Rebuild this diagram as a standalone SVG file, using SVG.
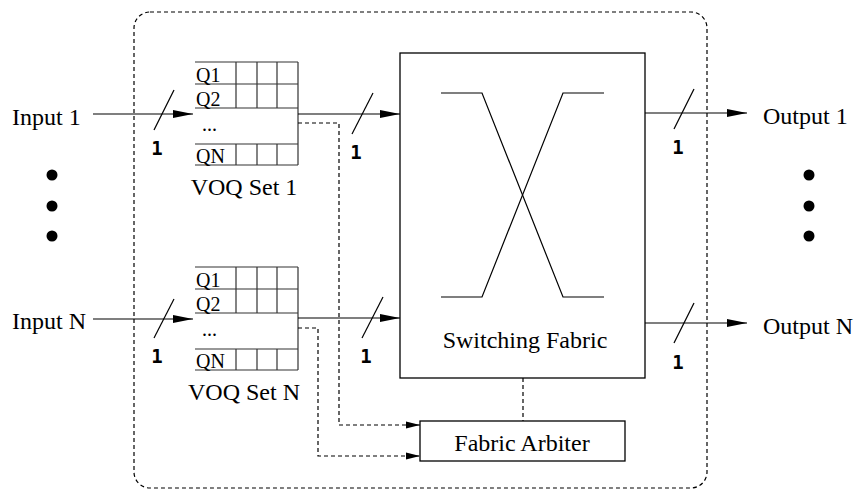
<svg xmlns="http://www.w3.org/2000/svg" width="856" height="500" viewBox="0 0 856 500">
<style>
.t{font-family:"Liberation Serif","Times New Roman",serif;font-size:24px;fill:#000}
.q{font-family:"Liberation Serif","Times New Roman",serif;font-size:20px;fill:#000}
.n{font-family:"DejaVu Sans Mono","Liberation Mono",monospace;font-size:19px;font-weight:bold;fill:#000}
.ln{stroke:#000;stroke-width:1.2;fill:none}
.gr{stroke:#333;stroke-width:1.2;fill:none}
.da{stroke:#000;stroke-width:1.2;fill:none;stroke-dasharray:4 3}
.box{stroke:#000;stroke-width:1.3;fill:#fff}
</style>
<defs>
<marker id="ah" markerUnits="userSpaceOnUse" markerWidth="20" markerHeight="9" refX="20" refY="4.5" orient="auto">
<path d="M0,0.5 L20,4.5 L0,8.5 Z" fill="#000"/>
</marker>
<marker id="ahs" markerUnits="userSpaceOnUse" markerWidth="14" markerHeight="8" refX="14" refY="4" orient="auto">
<path d="M0,0.5 L14,4 L0,7.5 Z" fill="#000"/>
</marker>
<g id="voqshape">
<path class="gr" d="M195,0 H298 M195,22 H298 M195,46 H298 M195,82 H298 M195,103 H298 M298,0 V103 M236,0 V46 M257,0 V46 M277,0 V46 M236,82 V103 M257,82 V103 M277,82 V103"/>
<text class="q" x="196" y="20">Q1</text>
<text class="q" x="196" y="44">Q2</text>
<text class="q" x="202" y="69">...</text>
<text class="q" x="196" y="101">QN</text>
</g>
</defs>
<rect id="boundary" x="134" y="12" width="573" height="476" rx="16" ry="16" class="da"/>
<g id="input1"><text class="t" x="12" y="125">Input 1</text></g>
<g id="inputN"><text class="t" x="12" y="329">Input N</text></g>
<g id="input-dots"><circle cx="52" cy="175" r="5.5"/><circle cx="52" cy="206" r="5.5"/><circle cx="52" cy="236" r="5.5"/></g>
<g id="voq1"><use href="#voqshape" x="0" y="62"/><text class="t" x="244" y="195" text-anchor="middle">VOQ Set 1</text></g>
<g id="voqN"><use href="#voqshape" x="0" y="267"/><text class="t" x="244" y="400" text-anchor="middle">VOQ Set N</text></g>
<g id="fabric">
<rect x="400" y="53" width="245" height="325" class="box"/>
<polyline class="ln" points="441,93 482,93 563,297 604,297"/>
<polyline class="ln" points="441,297 482,297 563,93 604,93"/>
<text class="t" x="525" y="348" text-anchor="middle">Switching Fabric</text>
</g>
<g id="arbiter">
<rect x="420" y="421" width="205" height="40" class="box"/>
<text class="t" x="522" y="451" text-anchor="middle">Fabric Arbiter</text>
</g>
<g id="output1"><text class="t" x="763" y="124">Output 1</text></g>
<g id="outputN"><text class="t" x="763" y="334">Output N</text></g>
<g id="output-dots"><circle cx="809" cy="175" r="5.5"/><circle cx="809" cy="206" r="5.5"/><circle cx="809" cy="236" r="5.5"/></g>
<g id="connectors">
<line class="ln" x1="93" y1="114" x2="193" y2="114" marker-end="url(#ah)"/>
<line class="ln" x1="154" y1="130" x2="174" y2="90"/>
<text class="n" x="157" y="155" text-anchor="middle">1</text>
<line class="ln" x1="93" y1="319" x2="193" y2="319" marker-end="url(#ah)"/>
<line class="ln" x1="154" y1="338" x2="174" y2="299"/>
<text class="n" x="157" y="363" text-anchor="middle">1</text>
<line class="ln" x1="298" y1="114" x2="400" y2="114" marker-end="url(#ah)"/>
<line class="ln" x1="352" y1="134" x2="373" y2="93"/>
<text class="n" x="356" y="159" text-anchor="middle">1</text>
<line class="ln" x1="298" y1="318" x2="400" y2="318" marker-end="url(#ah)"/>
<line class="ln" x1="362" y1="338" x2="383" y2="297"/>
<text class="n" x="366" y="363" text-anchor="middle">1</text>
<line class="ln" x1="645" y1="113" x2="747" y2="113" marker-end="url(#ah)"/>
<line class="ln" x1="674" y1="129" x2="694" y2="89"/>
<text class="n" x="678" y="154" text-anchor="middle">1</text>
<line class="ln" x1="645" y1="323" x2="747" y2="323" marker-end="url(#ah)"/>
<line class="ln" x1="674" y1="343" x2="694" y2="303"/>
<text class="n" x="678" y="369" text-anchor="middle">1</text>
<polyline class="da" points="298,123 339,123 339,425 420,425" marker-end="url(#ahs)"/>
<polyline class="da" points="298,328 318,328 318,456 420,456" marker-end="url(#ahs)"/>
<line class="da" x1="523" y1="378" x2="523" y2="421"/>
</g>
</svg>
